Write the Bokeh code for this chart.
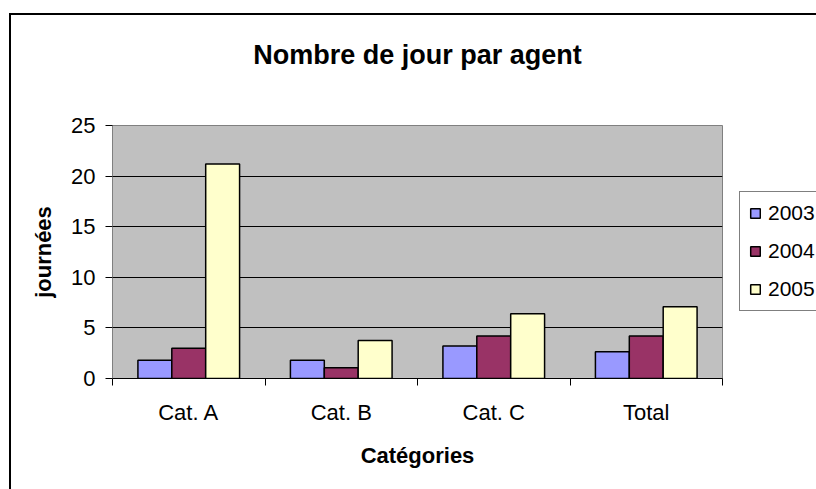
from bokeh.plotting import figure
from bokeh.models import FixedTicker, Legend, LegendItem, Range1d, InlineStyleSheet, LinearAxis
from bokeh.embed import file_html
from bokeh.resources import INLINE

title_text = "Nombre de jour par agent"
categories = ["Cat. A", "Cat. B", "Cat. C", "Total"]
years = ["2003", "2004", "2005"]
v2003 = [1.8, 1.8, 3.2, 2.65]
v2004 = [3.0, 1.05, 4.2, 4.2]
v2005 = [21.2, 3.75, 6.4, 7.1]
series = [v2003, v2004, v2005]
y_ticks = [0, 5, 10, 15, 20, 25]
colors = ["#9999FF", "#993366", "#FFFFCC"]

FONT = "Liberation Sans"

p = figure(frame_width=610, frame_height=253,
           min_border_left=112, min_border_right=94,
           min_border_top=125, min_border_bottom=111,
           x_range=Range1d(0, len(categories)), y_range=Range1d(0, 25),
           output_backend="svg", toolbar_location=None)

p.background_fill_color = "#C0C0C0"
p.border_fill_color = "white"
p.outline_line_color = "#808080"
p.outline_line_width = 1

xa = p.below[0]
ya = p.left[0]

# chart title, drawn as the label of a bare axis above the plot area
ta = LinearAxis(ticker=FixedTicker(ticks=[]), axis_line_color=None,
                major_tick_line_color=None, minor_tick_line_color=None,
                major_tick_out=0, minor_tick_out=0,
                major_label_text_font_size="0px",
                axis_label=title_text, axis_label_text_font=FONT,
                axis_label_text_font_size="27px", axis_label_text_font_style="bold",
                axis_label_text_color="black", axis_label_standoff=56)
p.add_layout(ta, "above")

bw = 1 / 4.5
renderers = []
for j, vals in enumerate(series):
    xs = [i + 0.5 + (j - 1) * bw for i in range(len(categories))]
    r = p.vbar(x=xs, top=vals, bottom=0, width=bw, fill_color=colors[j],
               line_color="black", line_width=1.5)
    renderers.append(r)

# x axis
xa.ticker = FixedTicker(ticks=[i + 0.5 for i in range(len(categories))],
                        minor_ticks=list(range(len(categories) + 1)))
xa.major_label_overrides = {i + 0.5: c for i, c in enumerate(categories)}
xa.major_tick_line_color = None
xa.major_tick_out = 0
xa.major_tick_in = 0
xa.minor_tick_line_color = "black"
xa.minor_tick_out = 7
xa.minor_tick_in = 0
xa.axis_line_color = "black"
xa.major_label_text_font = FONT
xa.major_label_text_font_size = "22px"
xa.major_label_text_color = "black"
xa.major_label_standoff = 14
xa.axis_label = "Catégories"
xa.axis_label_text_font = FONT
xa.axis_label_text_font_size = "22px"
xa.axis_label_text_font_style = "bold"
xa.axis_label_text_color = "black"
xa.axis_label_standoff = 15

# y axis
ya.ticker = FixedTicker(ticks=y_ticks, minor_ticks=[])
ya.major_tick_out = 7
ya.major_tick_in = 0
ya.major_tick_line_color = "black"
ya.axis_line_color = "#808080"
ya.major_label_text_font = FONT
ya.major_label_text_font_size = "22px"
ya.major_label_text_color = "black"
ya.major_label_standoff = 10
ya.axis_label = "journées"
ya.axis_label_text_font = FONT
ya.axis_label_text_font_size = "22px"
ya.axis_label_text_font_style = "bold"
ya.axis_label_text_color = "black"
ya.axis_label_standoff = 12

p.xgrid.grid_line_color = None
p.ygrid.ticker = FixedTicker(ticks=y_ticks[1:-1])
p.ygrid.grid_line_color = "black"
p.ygrid.grid_line_width = 1

legend = Legend(items=[LegendItem(label=y, renderers=[r]) for y, r in zip(years, renderers)],
                location=(17, 67))
legend.label_text_font = FONT
legend.label_text_font_size = "21px"
legend.label_text_color = "black"
legend.glyph_width = 12
legend.glyph_height = 12
legend.label_height = 24
legend.label_standoff = 7
legend.spacing = 14
legend.padding = 9
legend.margin = 0
legend.border_line_color = "black"
legend.border_line_width = 1
legend.background_fill_color = "white"
legend.background_fill_alpha = 1
p.add_layout(legend, "right")

# outer chart-area border (left and top edges visible in the window)
p.stylesheets = [InlineStyleSheet(css="""
:host { position: relative; }
:host::before {
  content: ''; position: absolute; left: 9px; top: 13px; right: 0; bottom: 0;
  border-left: 2px solid black; border-top: 2px solid black;
  z-index: 10; pointer-events: none;
}
""")]

open("out.html", "w").write(file_html(p, INLINE))
